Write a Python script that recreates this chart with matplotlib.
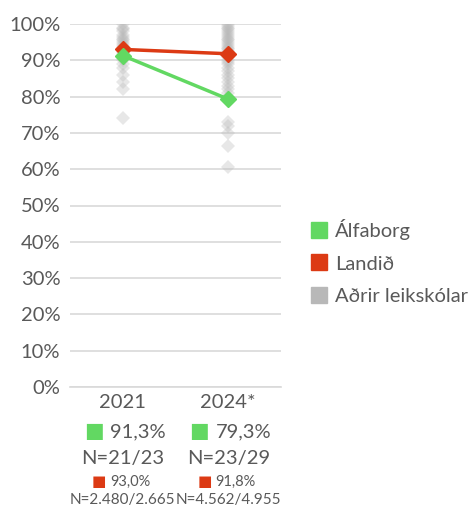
#!/usr/bin/env python3

import matplotlib.pyplot as plt
import matplotlib
import numpy as np

plt.rcParams['font.family'] = ['Lato', 'DejaVu Sans']

years = ["2021", "2024*"]
alfaborg = [91.3, 79.3]
landid = [93.0, 91.8]
alfaborg_n = ["N=21/23", "N=23/29"]
landid_n = ["N=2.480/2.665", "N=4.562/4.955"]

others_2021 = [100, 99, 98.5, 98, 97, 96.5, 96, 95.5, 95, 94.5, 94, 93.5, 93, 92.5,
               92, 91, 90.5, 90, 89, 88, 86, 84, 82, 74]
others_2024 = [100, 99.5, 99, 98.5, 98, 97.5, 97, 96.5, 96, 95.5, 95, 94.5, 94, 93.5,
               93, 92.5, 92, 91.5, 91, 90, 89.5, 89, 88, 87, 86, 85, 84, 83, 82, 81,
               80, 73, 72, 70, 66.5, 60.5]

green = "#62d862"
red = "#dc3a14"
gray = "#b8b8b8"
text_col = "#595959"

fig = plt.figure(figsize=(4.76, 5.08), dpi=100)
ax = fig.add_axes([70 / 476, 1 - 387 / 508, 211 / 476, 363 / 508])

for i, vals in enumerate([others_2021, others_2024]):
    ax.plot([i] * len(vals), vals, linestyle="none", marker="D", markersize=7.5,
            color=gray, alpha=0.33, markeredgewidth=0, zorder=2)

x = np.arange(len(years))
ax.plot(x, landid, color=red, linewidth=2.5, marker="D", markersize=8, zorder=3)
ax.plot(x, alfaborg, color=green, linewidth=2.5, marker="D", markersize=8, zorder=4)

ax.set_xlim(-0.5, 1.5)
ax.set_ylim(0, 100)
ax.set_yticks(np.arange(0, 101, 10))
ax.set_yticklabels([f"{v}%" for v in range(0, 101, 10)])
ax.yaxis.grid(True, color="#d9d9d9", linewidth=1.2)
ax.set_axisbelow(True)
ax.tick_params(axis="y", length=0, pad=7, labelsize=14.5, labelcolor=text_col)
ax.set_xticks([])
for s in ["top", "right", "left"]:
    ax.spines[s].set_visible(False)
ax.spines["bottom"].set_color("#d9d9d9")
ax.spines["bottom"].set_linewidth(1.2)

trans = ax.get_xaxis_transform()
for i in range(len(years)):
    ax.annotate(years[i], (i, 0), xycoords=trans, xytext=(0, -11), textcoords="offset points",
                ha="center", va="center", fontsize=14.5, color=text_col)
    ax.annotate("■", (i, 0), xycoords=trans, xytext=(-21, -32), textcoords="offset points",
                ha="center", va="center", fontsize=15, color=green)
    ax.annotate(f"{alfaborg[i]:.1f}%".replace(".", ","), (i, 0), xycoords=trans,
                xytext=(-9, -32), textcoords="offset points",
                ha="left", va="center", fontsize=14.5, color=text_col)
    ax.annotate(alfaborg_n[i], (i, 0), xycoords=trans, xytext=(0, -51.5), textcoords="offset points",
                ha="center", va="center", fontsize=14.5, color=text_col)
    ax.annotate("■", (i, 0), xycoords=trans, xytext=(-17, -68.5), textcoords="offset points",
                ha="center", va="center", fontsize=11, color=red)
    ax.annotate(f"{landid[i]:.1f}%".replace(".", ","), (i, 0), xycoords=trans,
                xytext=(-9, -68.5), textcoords="offset points",
                ha="left", va="center", fontsize=10.5, color=text_col)
    ax.annotate(landid_n[i], (i, 0), xycoords=trans, xytext=(0, -81.5), textcoords="offset points",
                ha="center", va="center", fontsize=11, color=text_col)

handles = [plt.Line2D([], [], linestyle="none", marker="s", markersize=11, color=c)
           for c in [green, red, gray]]
fig.legend(handles, ["Álfaborg", "Landið", "Aðrir leikskólar"], loc="center left",
           bbox_to_anchor=(289 / 476, 1 - 262 / 508), frameon=False, fontsize=14.5,
           labelcolor=text_col, handletextpad=0.2, labelspacing=0.75, handlelength=1.2)

plt.savefig("out.png", dpi=100)
